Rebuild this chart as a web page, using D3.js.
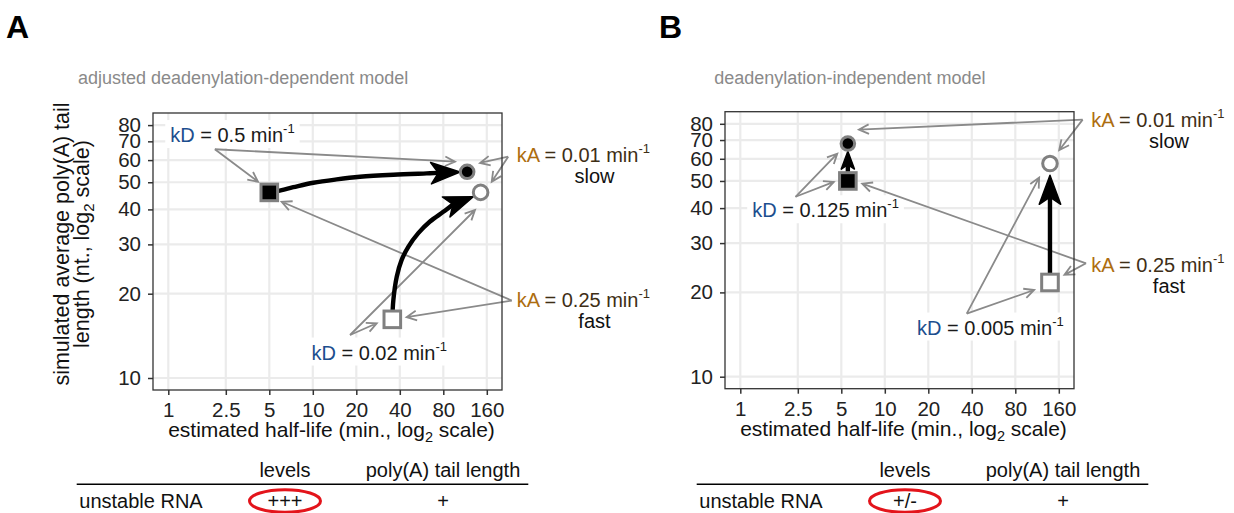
<!DOCTYPE html>
<html>
<head>
<meta charset="utf-8">
<script src="https://cdn.jsdelivr.net/npm/d3@7"></script>
<style>
body { margin: 0; background: #fff; }
svg text { font-family: "Liberation Sans", Arial, sans-serif; }
</style>
</head>
<body>
<svg id="fig" width="1234" height="513"></svg>
<script>
// axis ticks
var xTicks = [1, 2.5, 5, 10, 20, 40, 80, 160];
var yTicks = [10, 20, 30, 40, 50, 60, 70, 80];

// panel A: adjusted deadenylation-dependent model
var statesA = [
  {kD: 0.5,  kA: 0.25, halfLife: 5,    tail: 46},
  {kD: 0.5,  kA: 0.01, halfLife: 117,  tail: 54.5},
  {kD: 0.02, kA: 0.01, halfLife: 145,  tail: 46},
  {kD: 0.02, kA: 0.25, halfLife: 35.5, tail: 16.2}
];
// trajectories when kA goes from fast to slow
var trackA1 = [[5, 46], [5.77, 46.6], [7.33, 48.0], [10.08, 49.8], [14.63, 51.2], [21.2, 52.3], [36.1, 53.2], [61.4, 53.8], [104.4, 54.4]];
var trackA2 = [[35.5, 16.2], [36.1, 19.0], [38.1, 23.0], [41.2, 26.4], [45.8, 29.4], [53.7, 32.9], [64.7, 36.2], [80.0, 39.2], [104.4, 42.6], [129, 44.4]];
var labelsA = [
  {rate: "kD", value: "0.5",  note: "",     at: [2.78, 73.7],  from: [2.10, 65.6],  to: [[4.18, 50.2], [96.4, 59.2]]},
  {rate: "kD", value: "0.02", note: "",     at: [28.8, 12.33], from: [18.1, 14.24], to: [[27.7, 15.68], [132.6, 39.8]]},
  {rate: "kA", value: "0.01", note: "slow", at: [257.6, 62.6], from: [225, 61.7],   to: [[143.6, 58.6], [173, 50.2]]},
  {rate: "kA", value: "0.25", note: "fast", at: [257.6, 19.0], from: [238, 18.9],   to: [[6.09, 42.6], [44.6, 16.5]]}
];

// panel B: deadenylation-independent model
var statesB = [
  {kD: 0.125, kA: 0.25, halfLife: 5.55, tail: 50},
  {kD: 0.125, kA: 0.01, halfLife: 5.55, tail: 68},
  {kD: 0.005, kA: 0.01, halfLife: 139,  tail: 57.7},
  {kD: 0.005, kA: 0.25, halfLife: 139,  tail: 21.7}
];
var trackB1 = [[5.55, 50], [5.55, 63.8]];
var trackB2 = [[139, 21.7], [139, 52.4]];
var labelsB = [
  {rate: "kD", value: "0.125", note: "",     at: [3.89, 39.3],  from: [2.41, 43.9],  to: [[4.69, 62.6], [4.44, 49.6]]},
  {rate: "kD", value: "0.005", note: "",     at: [53.8, 14.98], from: [36.9, 16.8],  to: [[117, 51.4], [108, 20.4]]},
  {rate: "kA", value: "0.01",  note: "slow", at: [268, 82.3],   from: [234, 82.8],   to: [[6.62, 76.3], [161, 64.4]]},
  {rate: "kA", value: "0.25",  note: "fast", at: [268, 25.0],   from: [247, 25.4],   to: [[6.98, 48.9], [175, 23.1]]}
];

// summary tables
var tableHeader = ["", "levels", "poly(A) tail length"];
var tableRowA = ["unstable RNA", "+++", "+"];
var tableRowB = ["unstable RNA", "+/-", "+"];

var blue = "#1c4e8e", brown = "#ad6d0f", grey = "#8a8a8a";

var svg = d3.select("#fig");
var W = 349, H = 277;
var x = d3.scaleLog().base(2).domain([1, 160]).range([15.3, 15.3 + 43.5 * Math.log2(160)]);
var y = d3.scaleLog().base(2).domain([10, 80]).range([265, 265 - 84.3 * 3]);

function pointer(g, a, b) {
  var x1 = x(a[0]), y1 = y(a[1]), x2 = x(b[0]), y2 = y(b[1]);
  var ang = Math.atan2(y2 - y1, x2 - x1), len = 11, spread = 0.45;
  g.append("path")
    .attr("d", "M" + x1 + "," + y1 + "L" + x2 + "," + y2 +
      "M" + (x2 - len * Math.cos(ang - spread)) + "," + (y2 - len * Math.sin(ang - spread)) +
      "L" + x2 + "," + y2 +
      "L" + (x2 - len * Math.cos(ang + spread)) + "," + (y2 - len * Math.sin(ang + spread)))
    .attr("fill", "none").attr("stroke", grey).attr("stroke-width", 1.8);
}

function blackArrow(g, track) {
  var px = track.map(function(d) { return [x(d[0]), y(d[1])]; });
  var tip = px[px.length - 1], prev = px[px.length - 2];
  var dx = tip[0] - prev[0], dy = tip[1] - prev[1];
  var L = Math.hypot(dx, dy), ux = dx / L, uy = dy / L;
  var total = 0;
  for (var i = 1; i < px.length; i++) total += Math.hypot(px[i][0] - px[i-1][0], px[i][1] - px[i-1][1]);
  var hl = Math.min(29, total * 0.6), hw = hl * 0.37, notch = hl * 0.75;
  var nx = -uy, ny = ux;
  var np = [tip[0] - ux * notch, tip[1] - uy * notch];
  var shaft = px.filter(function(p) { return Math.hypot(p[0] - tip[0], p[1] - tip[1]) > notch + 2; });
  shaft.push(np);
  g.append("path")
    .attr("d", d3.line().curve(d3.curveCatmullRom.alpha(0.5))(shaft))
    .attr("fill", "none").attr("stroke", "#000").attr("stroke-width", 4.4);
  g.append("path")
    .attr("d", "M" + tip + "L" + [tip[0] - ux * hl + nx * hw, tip[1] - uy * hl + ny * hw] +
      "L" + np + "L" + [tip[0] - ux * hl - nx * hw, tip[1] - uy * hl - ny * hw] + "Z")
    .attr("fill", "#000").attr("stroke", "#000").attr("stroke-width", 1.5).attr("stroke-linejoin", "round");
}

function rateLabel(g, lab) {
  var isD = lab.rate === "kD";
  var t = g.append("text")
    .attr("x", x(lab.at[0])).attr("y", y(lab.at[1]) + 7)
    .attr("font-size", 20).attr("text-anchor", isD ? "middle" : "start");
  var r = t.append("tspan").attr("fill", isD ? blue : brown).text(lab.rate);
  t.append("tspan").attr("fill", isD ? "#1a1a1a" : "#3e2e16").text(" = " + lab.value + " min");
  t.append("tspan").attr("fill", isD ? "#1a1a1a" : "#3e2e16").attr("dy", -9).attr("font-size", 13).text("-1");
  var bb = t.node().getBBox();
  if (isD) {
    g.insert("rect", function() { return t.node(); })
      .attr("x", bb.x - 5).attr("y", bb.y - 1).attr("width", bb.width + 10).attr("height", bb.height + 3)
      .attr("fill", "#fff");
  }
  if (lab.note) {
    var kw = r.node().getComputedTextLength();
    g.append("text")
      .attr("x", bb.x + kw + (bb.width - kw) / 2).attr("y", y(lab.at[1]) + 28)
      .attr("font-size", 20).attr("text-anchor", "middle").attr("fill", "#111")
      .text(lab.note);
  }
}

function drawPanel(p) {
  var g = svg.append("g").attr("transform", "translate(" + p.left + "," + p.top + ")");
  g.selectAll(".gx").data(xTicks).enter().append("line")
    .attr("x1", function(d) { return x(d); }).attr("x2", function(d) { return x(d); })
    .attr("y1", 0).attr("y2", H).attr("stroke", "#ebebeb").attr("stroke-width", 2.2);
  g.selectAll(".gy").data(yTicks).enter().append("line")
    .attr("y1", function(d) { return y(d); }).attr("y2", function(d) { return y(d); })
    .attr("x1", 0).attr("x2", W).attr("stroke", "#ebebeb").attr("stroke-width", 2.2);

  var xa = g.append("g").attr("transform", "translate(0," + H + ")")
    .call(d3.axisBottom(x).tickValues(xTicks).tickFormat(function(d) { return d; }).tickSize(5).tickPadding(7.5));
  var ya = g.append("g")
    .call(d3.axisLeft(y).tickValues(yTicks).tickFormat(function(d) { return d; }).tickSize(5).tickPadding(7));
  [xa, ya].forEach(function(a) {
    a.attr("font-size", 20.5).attr("font-family", null).attr("color", "#222");
    a.select(".domain").remove();
    a.selectAll("line").attr("stroke", "#333").attr("stroke-width", 1.5);
  });

  p.labels.forEach(function(l) { if (l.rate === "kD") rateLabel(g, l); });
  p.labels.forEach(function(l) { l.to.forEach(function(t) { pointer(g, l.from, t); }); });
  p.tracks.forEach(function(t) { blackArrow(g, t); });

  p.states.forEach(function(s) {
    var cx = x(s.halfLife), cy = y(s.tail);
    var fill = s.kD >= 0.1 ? "#000" : "#fff";
    if (s.kA >= 0.1) {
      g.append("rect").attr("x", cx - 8.3).attr("y", cy - 8.3).attr("width", 16.6).attr("height", 16.6)
        .attr("fill", fill).attr("stroke", "#808080").attr("stroke-width", 3);
    } else {
      g.append("circle").attr("cx", cx).attr("cy", cy).attr("r", s.kD >= 0.1 ? 6.8 : 7.3)
        .attr("fill", fill).attr("stroke", "#808080").attr("stroke-width", 3);
    }
  });

  g.append("rect").attr("width", W).attr("height", H)
    .attr("fill", "none").attr("stroke", "#333").attr("stroke-width", 1.3);

  p.labels.forEach(function(l) { if (l.rate === "kA") rateLabel(g, l); });

  var xt = g.append("text").attr("x", W / 2 + 4).attr("y", H + 47)
    .attr("font-size", 21).attr("text-anchor", "middle").attr("fill", "#111");
  xt.append("tspan").text("estimated half-life (min., log");
  xt.append("tspan").attr("dy", 5).attr("font-size", 14.5).text("2");
  xt.append("tspan").attr("dy", -5).text(" scale)");

  svg.append("text").attr("x", p.titleX).attr("y", 84)
    .attr("font-size", 18).attr("fill", "#8a8a8a").text(p.title);
  svg.append("text").attr("x", p.tagX).attr("y", 38)
    .attr("font-size", 32).attr("font-weight", "bold").attr("fill", "#000").text(p.tag);
}

function drawTable(left, row) {
  var g = svg.append("g").attr("transform", "translate(" + left + ",0)");
  var cols = [2.6, 208.3, 366.3];
  tableHeader.forEach(function(h, i) {
    if (!h) return;
    g.append("text").attr("x", cols[i]).attr("y", 476.5).attr("font-size", 20)
      .attr("text-anchor", "middle").attr("fill", "#111").text(h);
  });
  g.append("line").attr("x1", 0).attr("x2", 451.6).attr("y1", 484.3).attr("y2", 484.3)
    .attr("stroke", "#000").attr("stroke-width", 1.6);
  row.forEach(function(c, i) {
    g.append("text").attr("x", cols[i]).attr("y", 508).attr("font-size", 20)
      .attr("text-anchor", i === 0 ? "start" : "middle").attr("fill", "#111").text(c);
  });
  g.append("ellipse").attr("cx", cols[1]).attr("cy", 501).attr("rx", 35.5).attr("ry", 11.3)
    .attr("fill", "none").attr("stroke", "#e3141b").attr("stroke-width", 3);
}

drawPanel({left: 153, top: 113, states: statesA, tracks: [trackA1, trackA2], labels: labelsA,
  title: "adjusted deadenylation-dependent model", titleX: 78, tag: "A", tagX: 6});
drawPanel({left: 725, top: 111.7, states: statesB, tracks: [trackB1, trackB2], labels: labelsB,
  title: "deadenylation-independent model", titleX: 714.3, tag: "B", tagX: 659});

// y axis title (panel A only)
var yt = svg.append("g").attr("transform", "translate(69,244) rotate(-90)");
yt.append("text").attr("text-anchor", "middle").attr("font-size", 21.5).attr("fill", "#111")
  .text("simulated average poly(A) tail");
var yt2 = yt.append("text").attr("y", 20).attr("text-anchor", "middle").attr("font-size", 21.5).attr("fill", "#111");
yt2.append("tspan").text("length (nt., log");
yt2.append("tspan").attr("dy", 5).attr("font-size", 15).text("2");
yt2.append("tspan").attr("dy", -5).text(" scale)");

drawTable(76.7, tableRowA);
drawTable(696.7, tableRowB);
</script>
</body>
</html>
